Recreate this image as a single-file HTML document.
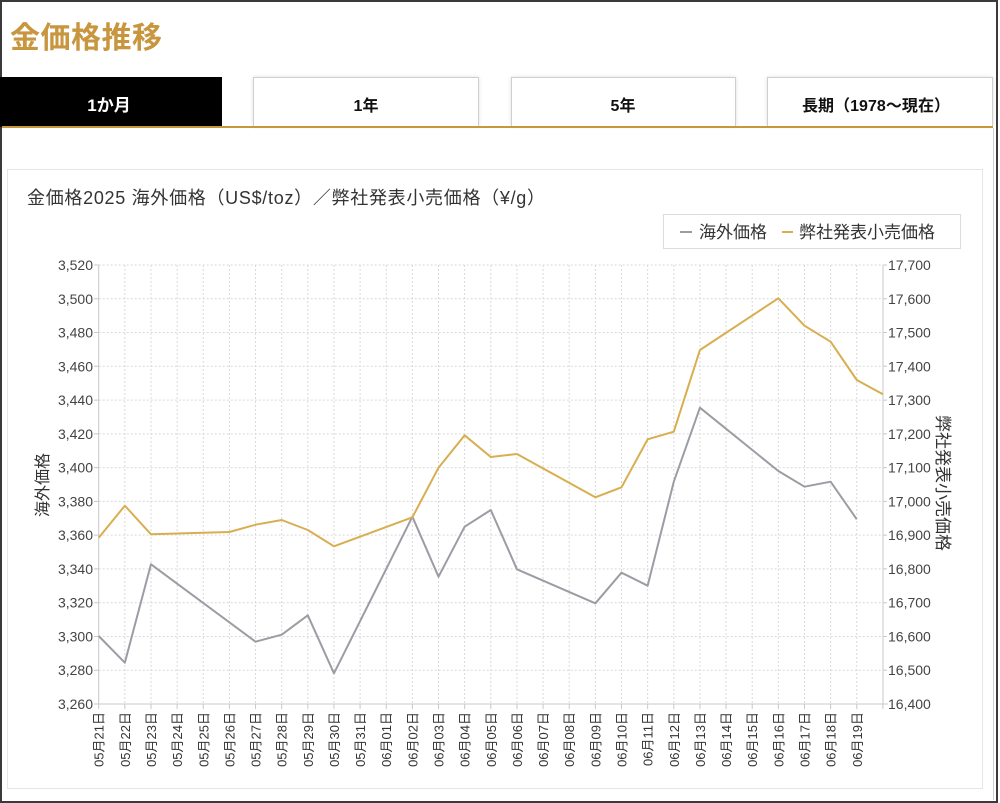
<!DOCTYPE html>
<html lang="ja">
<head>
<meta charset="utf-8">
<style>
  html,body{margin:0;padding:0;background:#fff;}
  body{width:1000px;height:803px;overflow:hidden;position:relative;font-family:"Liberation Sans","Noto Sans CJK JP",sans-serif;}
  .frame{position:absolute;left:0;top:0;width:994px;height:799px;border:2px solid #3a3a3a;}
  .tab{position:absolute;top:77px;height:49px;box-sizing:border-box;background:#fff;border:1px solid #cfcfcf;border-bottom:none;box-shadow:0 0 4px rgba(0,0,0,0.12);}
  svg{position:absolute;left:0;top:0;}
</style>
</head>
<body>
<div class="frame"></div>
<div style="position:absolute;left:0;top:77px;width:222px;height:50px;background:#000;"></div>
<div class="tab" style="left:253px;width:226px;"></div>
<div class="tab" style="left:511px;width:225px;"></div>
<div class="tab" style="left:767px;width:226px;"></div>
<div style="position:absolute;left:2px;top:126px;width:991px;height:2px;background:#c8973c;"></div>
<div style="position:absolute;left:993px;top:128px;width:1px;height:672px;background:#d0d0d0;"></div>
<div style="position:absolute;left:7px;top:169px;width:974px;height:618px;border:1px solid #e6e6e6;"></div>

<svg width="1000" height="803" viewBox="0 0 1000 803" xmlns="http://www.w3.org/2000/svg" font-family="'Liberation Sans','Noto Sans CJK JP',sans-serif">
  <!-- header -->
  <text x="10" y="48" font-size="30" font-weight="bold" fill="#c8963e" textLength="152" lengthAdjust="spacing">金価格推移</text>
  <text x="109" y="111" font-size="17" font-weight="bold" fill="#fff" text-anchor="middle">1か月</text>
  <text x="366" y="111" font-size="16" font-weight="bold" fill="#111" text-anchor="middle">1年</text>
  <text x="623" y="111" font-size="16" font-weight="bold" fill="#111" text-anchor="middle">5年</text>
  <text x="802" y="111" font-size="16" font-weight="bold" fill="#111" textLength="148" lengthAdjust="spacing">長期（1978〜現在）</text>

  <!-- chart title -->
  <text x="27" y="204" font-size="18" fill="#333" textLength="518" lengthAdjust="spacing">金価格2025 海外価格（US$/toz）／弊社発表小売価格（¥/g）</text>

  <!-- legend -->
  <rect x="663.5" y="214.5" width="297" height="34" fill="#fff" stroke="#dcdcdc"/>
  <line x1="680" y1="232" x2="692" y2="232" stroke="#9c9ca4" stroke-width="2"/>
  <text x="699" y="238" font-size="17" fill="#333">海外価格</text>
  <line x1="782" y1="232" x2="793" y2="232" stroke="#d8ae4f" stroke-width="2"/>
  <text x="799" y="238" font-size="17" fill="#333">弊社発表小売価格</text>

  <!-- grid -->
  <g stroke="#d9d9d9" stroke-width="1" stroke-dasharray="2,2" fill="none">
    <line x1="98.7" y1="265" x2="883" y2="265"/>
    <line x1="98.7" y1="298.77" x2="883" y2="298.77"/>
    <line x1="98.7" y1="332.54" x2="883" y2="332.54"/>
    <line x1="98.7" y1="366.31" x2="883" y2="366.31"/>
    <line x1="98.7" y1="400.08" x2="883" y2="400.08"/>
    <line x1="98.7" y1="433.85" x2="883" y2="433.85"/>
    <line x1="98.7" y1="467.62" x2="883" y2="467.62"/>
    <line x1="98.7" y1="501.39" x2="883" y2="501.39"/>
    <line x1="98.7" y1="535.16" x2="883" y2="535.16"/>
    <line x1="98.7" y1="568.93" x2="883" y2="568.93"/>
    <line x1="98.7" y1="602.7" x2="883" y2="602.7"/>
    <line x1="98.7" y1="636.47" x2="883" y2="636.47"/>
    <line x1="98.7" y1="670.24" x2="883" y2="670.24"/>
    <line x1="124.84" y1="265" x2="124.84" y2="704"/>
    <line x1="150.98" y1="265" x2="150.98" y2="704"/>
    <line x1="177.12" y1="265" x2="177.12" y2="704"/>
    <line x1="203.26" y1="265" x2="203.26" y2="704"/>
    <line x1="229.4" y1="265" x2="229.4" y2="704"/>
    <line x1="255.54" y1="265" x2="255.54" y2="704"/>
    <line x1="281.68" y1="265" x2="281.68" y2="704"/>
    <line x1="307.82" y1="265" x2="307.82" y2="704"/>
    <line x1="333.96" y1="265" x2="333.96" y2="704"/>
    <line x1="360.1" y1="265" x2="360.1" y2="704"/>
    <line x1="386.24" y1="265" x2="386.24" y2="704"/>
    <line x1="412.38" y1="265" x2="412.38" y2="704"/>
    <line x1="438.52" y1="265" x2="438.52" y2="704"/>
    <line x1="464.66" y1="265" x2="464.66" y2="704"/>
    <line x1="490.8" y1="265" x2="490.8" y2="704"/>
    <line x1="516.94" y1="265" x2="516.94" y2="704"/>
    <line x1="543.08" y1="265" x2="543.08" y2="704"/>
    <line x1="569.22" y1="265" x2="569.22" y2="704"/>
    <line x1="595.36" y1="265" x2="595.36" y2="704"/>
    <line x1="621.5" y1="265" x2="621.5" y2="704"/>
    <line x1="647.64" y1="265" x2="647.64" y2="704"/>
    <line x1="673.78" y1="265" x2="673.78" y2="704"/>
    <line x1="699.92" y1="265" x2="699.92" y2="704"/>
    <line x1="726.06" y1="265" x2="726.06" y2="704"/>
    <line x1="752.2" y1="265" x2="752.2" y2="704"/>
    <line x1="778.34" y1="265" x2="778.34" y2="704"/>
    <line x1="804.48" y1="265" x2="804.48" y2="704"/>
    <line x1="830.62" y1="265" x2="830.62" y2="704"/>
    <line x1="856.76" y1="265" x2="856.76" y2="704"/>
  </g>

  <!-- axes -->
  <g stroke="#c8c8c8" stroke-width="1" fill="none">
    <line x1="98.7" y1="265" x2="98.7" y2="704"/>
    <line x1="883" y1="265" x2="883" y2="704"/>
    <line x1="94" y1="704" x2="888" y2="704"/>
    <path d="M94 265H98.7M94 298.77H98.7M94 332.54H98.7M94 366.31H98.7M94 400.08H98.7M94 433.85H98.7M94 467.62H98.7M94 501.39H98.7M94 535.16H98.7M94 568.93H98.7M94 602.7H98.7M94 636.47H98.7M94 670.24H98.7"/>
    <path d="M883 265H887M883 298.77H887M883 332.54H887M883 366.31H887M883 400.08H887M883 433.85H887M883 467.62H887M883 501.39H887M883 535.16H887M883 568.93H887M883 602.7H887M883 636.47H887M883 670.24H887"/>
    <path d="M98.7 704V709M124.84 704V709M150.98 704V709M177.12 704V709M203.26 704V709M229.4 704V709M255.54 704V709M281.68 704V709M307.82 704V709M333.96 704V709M360.1 704V709M386.24 704V709M412.38 704V709M438.52 704V709M464.66 704V709M490.8 704V709M516.94 704V709M543.08 704V709M569.22 704V709M595.36 704V709M621.5 704V709M647.64 704V709M673.78 704V709M699.92 704V709M726.06 704V709M752.2 704V709M778.34 704V709M804.48 704V709M830.62 704V709M856.76 704V709M882.9 704V709"/>
  </g>

  <!-- left labels -->
  <g font-size="14" fill="#444" text-anchor="end">
    <text x="93" y="270">3,520</text>
    <text x="93" y="303.77">3,500</text>
    <text x="93" y="337.54">3,480</text>
    <text x="93" y="371.31">3,460</text>
    <text x="93" y="405.08">3,440</text>
    <text x="93" y="438.85">3,420</text>
    <text x="93" y="472.62">3,400</text>
    <text x="93" y="506.39">3,380</text>
    <text x="93" y="540.16">3,360</text>
    <text x="93" y="573.93">3,340</text>
    <text x="93" y="607.7">3,320</text>
    <text x="93" y="641.47">3,300</text>
    <text x="93" y="675.24">3,280</text>
    <text x="93" y="709">3,260</text>
  </g>
  <!-- right labels -->
  <g font-size="14" fill="#444" text-anchor="start">
    <text x="888" y="270">17,700</text>
    <text x="888" y="303.77">17,600</text>
    <text x="888" y="337.54">17,500</text>
    <text x="888" y="371.31">17,400</text>
    <text x="888" y="405.08">17,300</text>
    <text x="888" y="438.85">17,200</text>
    <text x="888" y="472.62">17,100</text>
    <text x="888" y="506.39">17,000</text>
    <text x="888" y="540.16">16,900</text>
    <text x="888" y="573.93">16,800</text>
    <text x="888" y="607.7">16,700</text>
    <text x="888" y="641.47">16,600</text>
    <text x="888" y="675.24">16,500</text>
    <text x="888" y="709">16,400</text>
  </g>

  <!-- axis titles -->
  <text transform="translate(48,485) rotate(-90)" font-size="16" fill="#333" text-anchor="middle">海外価格</text>
  <text transform="translate(937,483) rotate(90)" font-size="17" fill="#333" text-anchor="middle">弊社発表小売価格</text>

  <!-- x labels -->
  <g font-size="13" fill="#333" text-anchor="end">
    <text transform="translate(103.7,712) rotate(-90)">05月21日</text>
    <text transform="translate(129.84,712) rotate(-90)">05月22日</text>
    <text transform="translate(155.98,712) rotate(-90)">05月23日</text>
    <text transform="translate(182.12,712) rotate(-90)">05月24日</text>
    <text transform="translate(208.26,712) rotate(-90)">05月25日</text>
    <text transform="translate(234.4,712) rotate(-90)">05月26日</text>
    <text transform="translate(260.54,712) rotate(-90)">05月27日</text>
    <text transform="translate(286.68,712) rotate(-90)">05月28日</text>
    <text transform="translate(312.82,712) rotate(-90)">05月29日</text>
    <text transform="translate(338.96,712) rotate(-90)">05月30日</text>
    <text transform="translate(365.1,712) rotate(-90)">05月31日</text>
    <text transform="translate(391.24,712) rotate(-90)">06月01日</text>
    <text transform="translate(417.38,712) rotate(-90)">06月02日</text>
    <text transform="translate(443.52,712) rotate(-90)">06月03日</text>
    <text transform="translate(469.66,712) rotate(-90)">06月04日</text>
    <text transform="translate(495.8,712) rotate(-90)">06月05日</text>
    <text transform="translate(521.94,712) rotate(-90)">06月06日</text>
    <text transform="translate(548.08,712) rotate(-90)">06月07日</text>
    <text transform="translate(574.22,712) rotate(-90)">06月08日</text>
    <text transform="translate(600.36,712) rotate(-90)">06月09日</text>
    <text transform="translate(626.5,712) rotate(-90)">06月10日</text>
    <text transform="translate(652.64,712) rotate(-90)">06月11日</text>
    <text transform="translate(678.78,712) rotate(-90)">06月12日</text>
    <text transform="translate(704.92,712) rotate(-90)">06月13日</text>
    <text transform="translate(731.06,712) rotate(-90)">06月14日</text>
    <text transform="translate(757.2,712) rotate(-90)">06月15日</text>
    <text transform="translate(783.34,712) rotate(-90)">06月16日</text>
    <text transform="translate(809.48,712) rotate(-90)">06月17日</text>
    <text transform="translate(835.62,712) rotate(-90)">06月18日</text>
    <text transform="translate(861.76,712) rotate(-90)">06月19日</text>
  </g>

  <!-- series -->
  <polyline fill="none" stroke="#9c9ca4" stroke-width="2" stroke-linejoin="round"
    points="98.7,636 124.84,662.7 150.98,564.3 255.54,641.7 281.68,634.7 307.82,615.3 333.96,673.3 412.38,516.7 438.52,576.7 464.66,526.7 490.8,510 516.94,569.3 595.36,603.3 621.5,572.7 647.64,585.7 673.78,481.7 699.92,407.7 778.34,471 804.48,486.7 830.62,481.7 856.76,519.3"/>
  <polyline fill="none" stroke="#d8ae4f" stroke-width="2" stroke-linejoin="round"
    points="98.7,537.7 124.84,505.7 150.98,534.3 229.4,532 255.54,524.7 281.68,520 307.82,530 333.96,546.3 412.38,517.3 438.52,467.7 464.66,435.3 490.8,457 516.94,454 595.36,497.3 621.5,487.3 647.64,439.3 673.78,431.7 699.92,350 778.34,298.3 804.48,325.7 830.62,341.7 856.76,380 882.9,394.3"/>
</svg>
</body>
</html>
